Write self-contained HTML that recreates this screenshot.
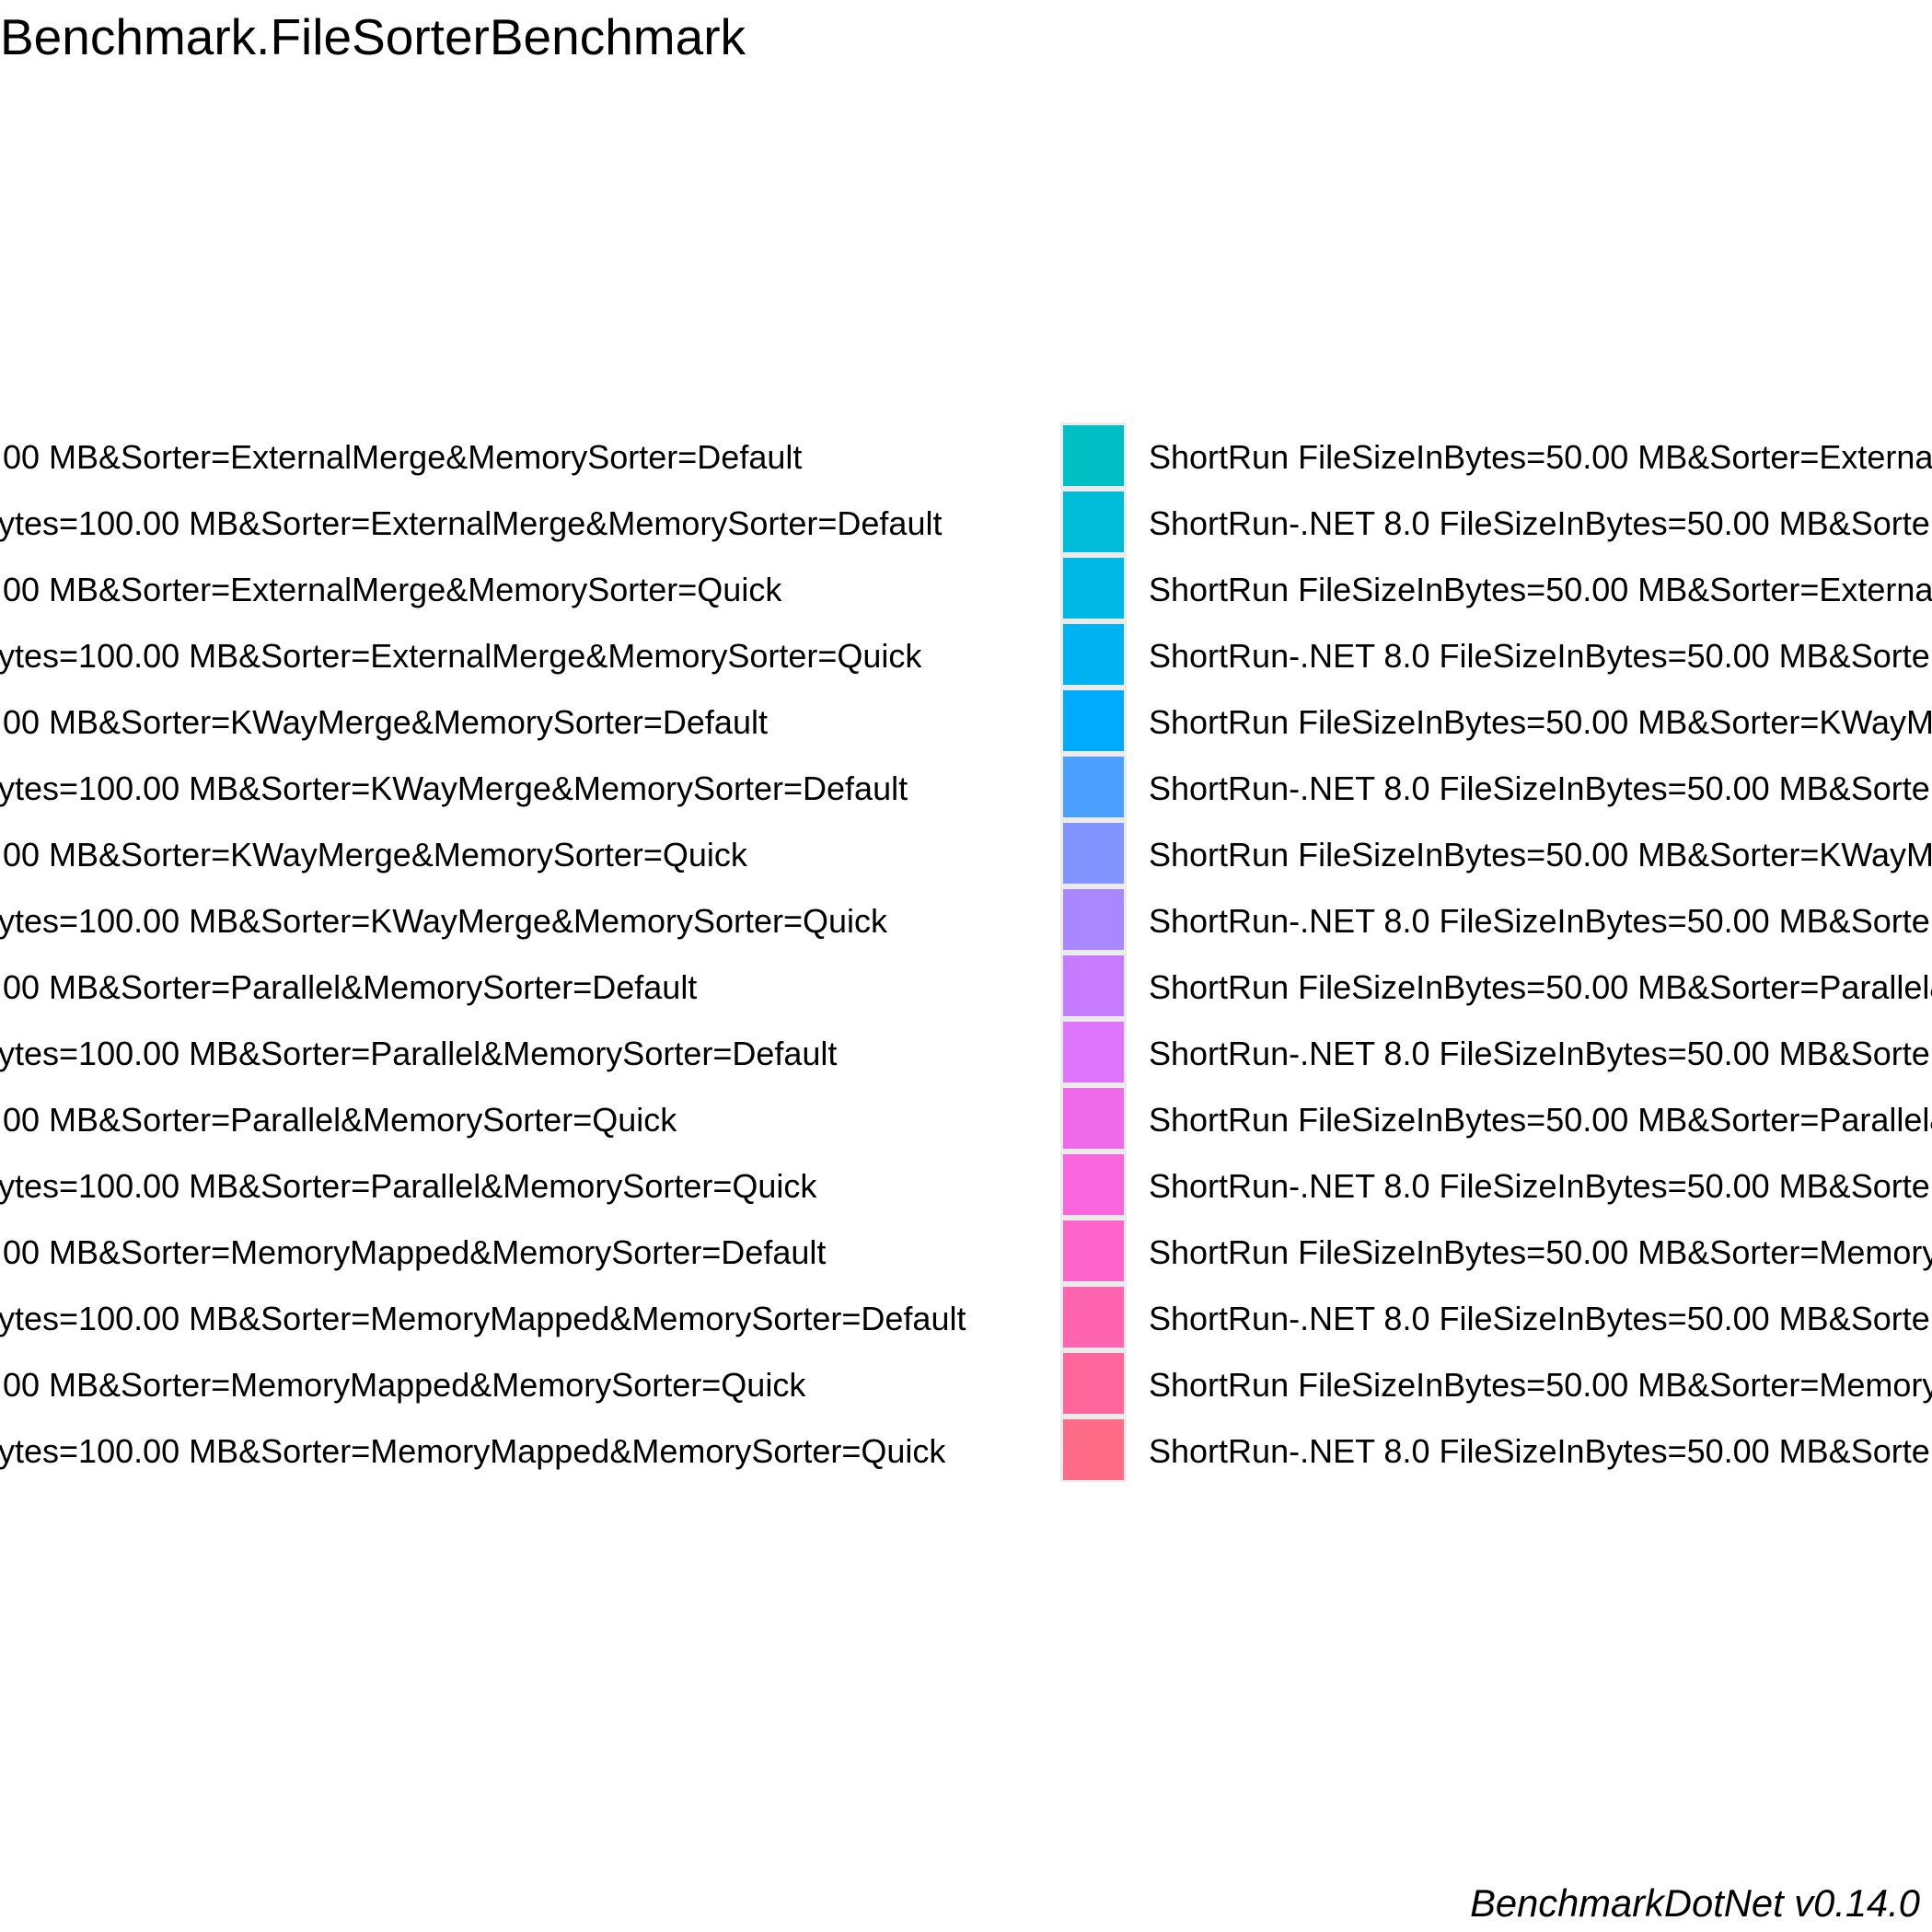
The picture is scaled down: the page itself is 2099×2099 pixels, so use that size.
<!DOCTYPE html>
<html><head><meta charset="utf-8"><style>
html,body{margin:0;padding:0;background:#fff;width:2099px;height:2099px;overflow:hidden}
svg{display:block}
text{font-family:"Liberation Sans",sans-serif;fill:#000}
</style></head><body>
<svg width="2099" height="2099" viewBox="0 0 2099 2099" xmlns="http://www.w3.org/2000/svg">
<text x="0" y="59" font-size="55">Benchmark.FileSorterBenchmark</text>
<rect x="1152" y="459" width="72" height="1151" fill="#ebebeb"/>
<g>
<rect x="1155" y="462" width="66" height="66" fill="#00BFC4"/>
<rect x="1155" y="534" width="66" height="66" fill="#00BCD8"/>
<rect x="1155" y="606" width="66" height="66" fill="#00B8E5"/>
<rect x="1155" y="678" width="66" height="66" fill="#00B2F2"/>
<rect x="1155" y="750" width="66" height="66" fill="#00ABFD"/>
<rect x="1155" y="822" width="66" height="66" fill="#4BA0FF"/>
<rect x="1155" y="894" width="66" height="66" fill="#8294FF"/>
<rect x="1155" y="966" width="66" height="66" fill="#A887FF"/>
<rect x="1155" y="1038" width="66" height="66" fill="#C77CFF"/>
<rect x="1155" y="1110" width="66" height="66" fill="#DD74F9"/>
<rect x="1155" y="1182" width="66" height="66" fill="#EF6AEB"/>
<rect x="1155" y="1254" width="66" height="66" fill="#F966DE"/>
<rect x="1155" y="1326" width="66" height="66" fill="#FF64CA"/>
<rect x="1155" y="1398" width="66" height="66" fill="#FF64B0"/>
<rect x="1155" y="1470" width="66" height="66" fill="#FF679C"/>
<rect x="1155" y="1542" width="66" height="66" fill="#FF6C87"/>
</g>
<g font-size="36">
<text x="3" y="509">00 MB&amp;Sorter=ExternalMerge&amp;MemorySorter=Default</text>
<text x="-2" y="581">ytes=100.00 MB&amp;Sorter=ExternalMerge&amp;MemorySorter=Default</text>
<text x="3" y="653">00 MB&amp;Sorter=ExternalMerge&amp;MemorySorter=Quick</text>
<text x="-2" y="725">ytes=100.00 MB&amp;Sorter=ExternalMerge&amp;MemorySorter=Quick</text>
<text x="3" y="797">00 MB&amp;Sorter=KWayMerge&amp;MemorySorter=Default</text>
<text x="-2" y="869">ytes=100.00 MB&amp;Sorter=KWayMerge&amp;MemorySorter=Default</text>
<text x="3" y="941">00 MB&amp;Sorter=KWayMerge&amp;MemorySorter=Quick</text>
<text x="-2" y="1013">ytes=100.00 MB&amp;Sorter=KWayMerge&amp;MemorySorter=Quick</text>
<text x="3" y="1085">00 MB&amp;Sorter=Parallel&amp;MemorySorter=Default</text>
<text x="-2" y="1157">ytes=100.00 MB&amp;Sorter=Parallel&amp;MemorySorter=Default</text>
<text x="3" y="1229">00 MB&amp;Sorter=Parallel&amp;MemorySorter=Quick</text>
<text x="-2" y="1301">ytes=100.00 MB&amp;Sorter=Parallel&amp;MemorySorter=Quick</text>
<text x="3" y="1373">00 MB&amp;Sorter=MemoryMapped&amp;MemorySorter=Default</text>
<text x="-2" y="1445">ytes=100.00 MB&amp;Sorter=MemoryMapped&amp;MemorySorter=Default</text>
<text x="3" y="1517">00 MB&amp;Sorter=MemoryMapped&amp;MemorySorter=Quick</text>
<text x="-2" y="1589">ytes=100.00 MB&amp;Sorter=MemoryMapped&amp;MemorySorter=Quick</text>

<text x="1248" y="509">ShortRun FileSizeInBytes=50.00 MB&amp;Sorter=ExternalMerge&amp;MemorySorter=Default</text>
<text x="1248" y="581">ShortRun-.NET 8.0 FileSizeInBytes=50.00 MB&amp;Sorter=ExternalMerge&amp;MemorySorter=Default</text>
<text x="1248" y="653">ShortRun FileSizeInBytes=50.00 MB&amp;Sorter=ExternalMerge&amp;MemorySorter=Quick</text>
<text x="1248" y="725">ShortRun-.NET 8.0 FileSizeInBytes=50.00 MB&amp;Sorter=ExternalMerge&amp;MemorySorter=Quick</text>
<text x="1248" y="797">ShortRun FileSizeInBytes=50.00 MB&amp;Sorter=KWayMerge&amp;MemorySorter=Default</text>
<text x="1248" y="869">ShortRun-.NET 8.0 FileSizeInBytes=50.00 MB&amp;Sorter=KWayMerge&amp;MemorySorter=Default</text>
<text x="1248" y="941">ShortRun FileSizeInBytes=50.00 MB&amp;Sorter=KWayMerge&amp;MemorySorter=Quick</text>
<text x="1248" y="1013">ShortRun-.NET 8.0 FileSizeInBytes=50.00 MB&amp;Sorter=KWayMerge&amp;MemorySorter=Quick</text>
<text x="1248" y="1085">ShortRun FileSizeInBytes=50.00 MB&amp;Sorter=Parallel&amp;MemorySorter=Default</text>
<text x="1248" y="1157">ShortRun-.NET 8.0 FileSizeInBytes=50.00 MB&amp;Sorter=Parallel&amp;MemorySorter=Default</text>
<text x="1248" y="1229">ShortRun FileSizeInBytes=50.00 MB&amp;Sorter=Parallel&amp;MemorySorter=Quick</text>
<text x="1248" y="1301">ShortRun-.NET 8.0 FileSizeInBytes=50.00 MB&amp;Sorter=Parallel&amp;MemorySorter=Quick</text>
<text x="1248" y="1373">ShortRun FileSizeInBytes=50.00 MB&amp;Sorter=MemoryMapped&amp;MemorySorter=Default</text>
<text x="1248" y="1445">ShortRun-.NET 8.0 FileSizeInBytes=50.00 MB&amp;Sorter=MemoryMapped&amp;MemorySorter=Default</text>
<text x="1248" y="1517">ShortRun FileSizeInBytes=50.00 MB&amp;Sorter=MemoryMapped&amp;MemorySorter=Quick</text>
<text x="1248" y="1589">ShortRun-.NET 8.0 FileSizeInBytes=50.00 MB&amp;Sorter=MemoryMapped&amp;MemorySorter=Quick</text>
</g>
<text x="2086" y="2082" font-size="41.7" font-style="italic" text-anchor="end">BenchmarkDotNet v0.14.0</text>
</svg>
</body></html>
